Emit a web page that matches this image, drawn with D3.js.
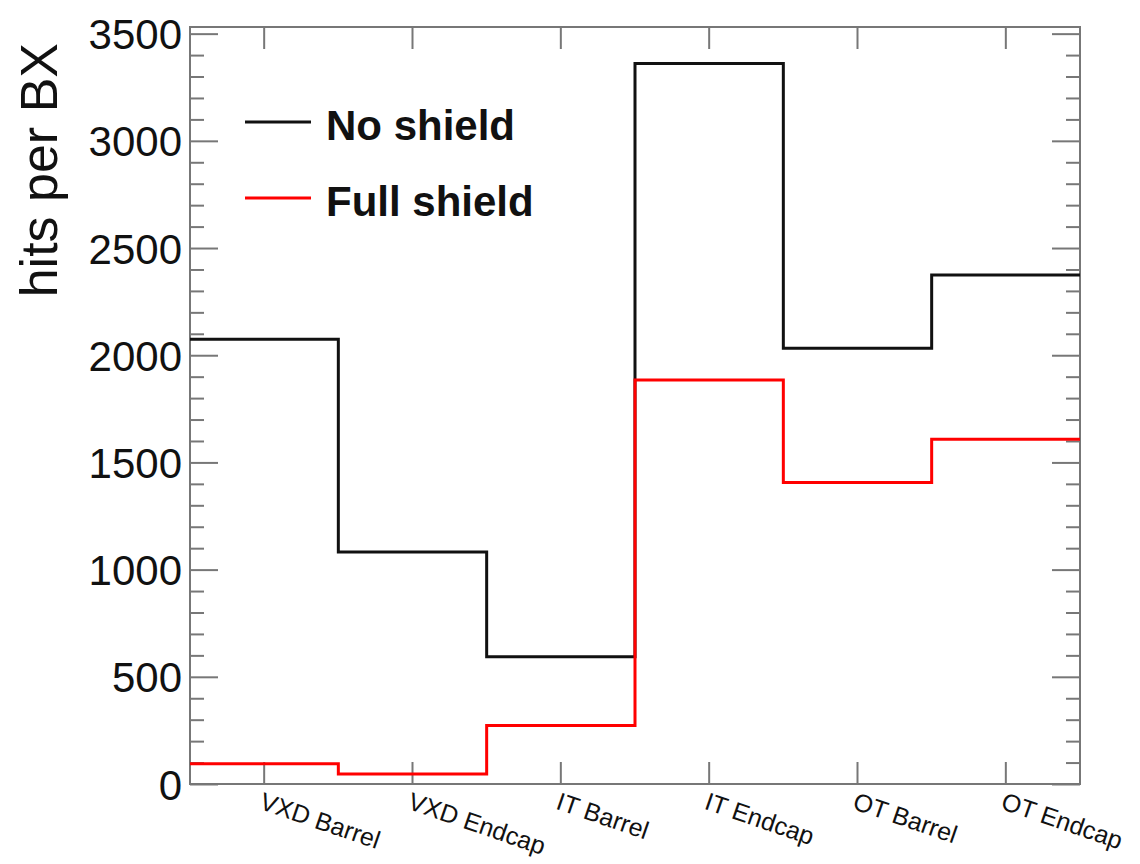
<!DOCTYPE html>
<html>
<head>
<meta charset="utf-8">
<script src="https://cdn.jsdelivr.net/npm/d3@7"></script>
<style>
  html, body { margin: 0; padding: 0; background: #fff; }
  svg { display: block; font-family: "Liberation Sans", Arial, Helvetica, sans-serif; }
</style>
</head>
<body>
<svg id="chart" width="1140" height="864"></svg>
<script>
const categories = ["VXD Barrel", "VXD Endcap", "IT Barrel", "IT Endcap", "OT Barrel", "OT Endcap"];
const noShield = [2074, 1082, 593, 3361, 2033, 2374];
const fullShield = [94, 47, 273, 1884, 1406, 1608];
const seriesNames = ["No shield", "Full shield"];
const seriesColors = ["#111111", "#ff0000"];
const yMajorTicks = [0, 500, 1000, 1500, 2000, 2500, 3000, 3500];
const yLabel = "hits per BX";

(function () {
const pLeft = 190, pRight = 1080, pTop = 27, pBottom = 784;
const yMax = 3531;

const svg = d3.select("#chart");

const x = d3.scaleBand().domain(categories).range([pLeft, pRight]).padding(0);
const y = d3.scaleLinear().domain([0, yMax]).range([pBottom, pTop]);
const yMinor = d3.range(0, yMax, 100).filter(v => v % 500 !== 0);

const axisColor = "#777";

// Frame
svg.append("rect")
  .attr("x", pLeft).attr("y", pTop)
  .attr("width", pRight - pLeft).attr("height", pBottom - pTop)
  .attr("fill", "none").attr("stroke", axisColor).attr("stroke-width", 2);

function styleAxis(g) {
  g.select(".domain").remove();
  g.selectAll(".tick line").attr("stroke", axisColor).attr("stroke-width", 2);
}

// Left axis major
const gLeft = svg.append("g").attr("transform", `translate(${pLeft},0)`)
  .call(d3.axisLeft(y).tickValues(yMajorTicks).tickSizeInner(-28).tickSizeOuter(0).tickFormat(d3.format("d")));
styleAxis(gLeft);
gLeft.selectAll(".tick text")
  .attr("font-size", 42).attr("fill", "#111").attr("font-family", "Liberation Sans, Arial, sans-serif")
  .attr("x", -8).attr("dy", "0.36em");
// Left axis minor
const gLeftMin = svg.append("g").attr("transform", `translate(${pLeft},0)`)
  .call(d3.axisLeft(y).tickValues(yMinor).tickSizeInner(-14).tickSizeOuter(0).tickFormat(""));
styleAxis(gLeftMin);

// Right axis major & minor (ticks only)
const gRight = svg.append("g").attr("transform", `translate(${pRight},0)`)
  .call(d3.axisRight(y).tickValues(yMajorTicks).tickSizeInner(-28).tickSizeOuter(0).tickFormat(""));
styleAxis(gRight);
const gRightMin = svg.append("g").attr("transform", `translate(${pRight},0)`)
  .call(d3.axisRight(y).tickValues(yMinor).tickSizeInner(-14).tickSizeOuter(0).tickFormat(""));
styleAxis(gRightMin);

// Bottom axis
const gBottom = svg.append("g").attr("transform", `translate(0,${pBottom})`)
  .call(d3.axisBottom(x).tickSizeInner(-22).tickSizeOuter(0));
styleAxis(gBottom);
gBottom.selectAll(".tick text")
  .attr("font-size", 25).attr("fill", "#111").attr("font-family", "Liberation Sans, Arial, sans-serif")
  .attr("text-anchor", "start")
  .attr("x", 0).attr("y", 0).attr("dy", null)
  .attr("transform", "translate(0,7) rotate(19)")
  .attr("dominant-baseline", "hanging");

// Top axis
const gTop = svg.append("g").attr("transform", `translate(0,${pTop})`)
  .call(d3.axisTop(x).tickSizeInner(-22).tickSizeOuter(0).tickFormat(""));
styleAxis(gTop);

// Y title
svg.append("text")
  .attr("transform", `translate(57,43) rotate(-90)`)
  .attr("text-anchor", "end")
  .attr("font-size", 52).attr("fill", "#111")
  .text(yLabel);

// Step histograms
function stepPoints(vals) {
  const pts = categories.map((c, i) => [x(c), y(vals[i])]);
  pts.push([x(categories[categories.length - 1]) + x.bandwidth(), y(vals[vals.length - 1])]);
  return pts;
}
const line = d3.line().curve(d3.curveStepAfter);
[noShield, fullShield].forEach((vals, i) => {
  svg.append("path")
    .attr("d", line(stepPoints(vals)))
    .attr("fill", "none")
    .attr("stroke", seriesColors[i])
    .attr("stroke-width", 3)
    .attr("stroke-linejoin", "miter");
});

// Legend
const legY = [122, 198];
seriesNames.forEach((name, i) => {
  svg.append("line")
    .attr("x1", 245).attr("x2", 311)
    .attr("y1", legY[i]).attr("y2", legY[i])
    .attr("stroke", seriesColors[i]).attr("stroke-width", 3);
  svg.append("text")
    .attr("x", 326).attr("y", legY[i] + 18)
    .attr("font-size", 42).attr("font-weight", "bold").attr("fill", "#111")
    .text(name);
});
})();
</script>
</body>
</html>
